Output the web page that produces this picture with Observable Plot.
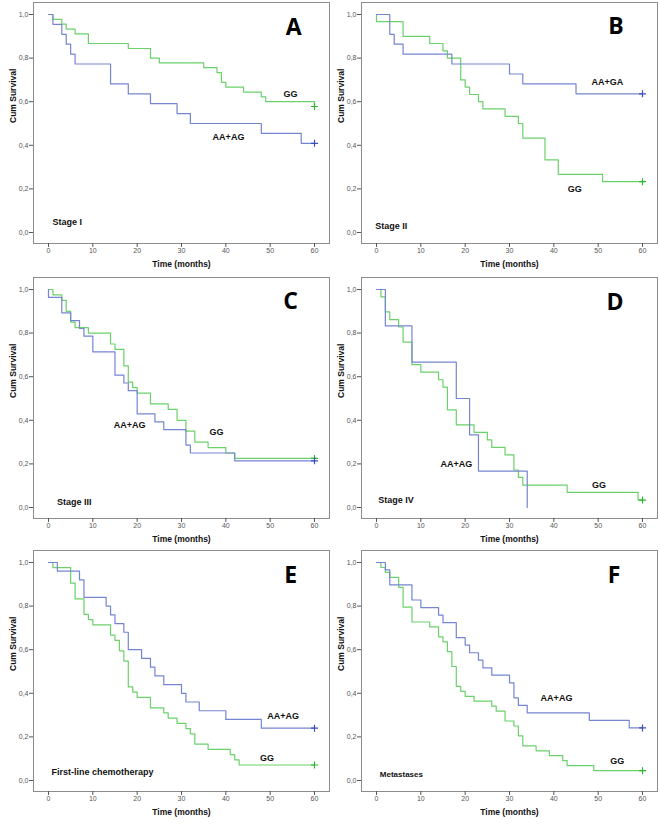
<!DOCTYPE html>
<html><head><meta charset="utf-8">
<script src="https://cdn.jsdelivr.net/npm/d3@7"></script>
<script src="https://cdn.jsdelivr.net/npm/@observablehq/plot@0.6"></script>
<style>
body{margin:0;background:#fff;}
#fig{position:relative;width:660px;height:828px;font-family:"Liberation Sans",Arial,sans-serif;}
.panel{position:absolute;}
</style></head><body><div id="fig"></div>
<script>
const xTicks = [0, 10, 20, 30, 40, 50, 60];
const yTicks = [0, 0.2, 0.4, 0.6, 0.8, 1.0];
const xTitle = "Time (months)";
const yTitle = "Cum Survival";

// Panel A – Stage I
const aBlueT = [0, 1, 3, 4, 5, 6, 14, 18, 23, 29, 32, 48, 57, 60];
const aBlueS = [1, 0.955, 0.909, 0.864, 0.818, 0.773, 0.682, 0.636, 0.591, 0.545, 0.5, 0.455, 0.409, 0.409];
const aGreenT = [0, 1, 3, 4, 6, 9, 18, 23, 25, 35, 38, 39, 40, 44, 48, 49, 60];
const aGreenS = [1, 0.978, 0.956, 0.933, 0.911, 0.867, 0.844, 0.8, 0.778, 0.756, 0.733, 0.689, 0.667, 0.644, 0.622, 0.6, 0.578];

// Panel B – Stage II
const bBlueT = [0, 3, 4, 6, 17, 30, 33, 45, 60];
const bBlueS = [1, 0.909, 0.864, 0.818, 0.773, 0.727, 0.682, 0.636, 0.636];
const bGreenT = [0, 0, 6, 12, 15, 16, 19, 20, 21, 23, 24, 29, 32, 33, 38, 41, 51, 60];
const bGreenS = [1, 0.967, 0.9, 0.867, 0.833, 0.8, 0.7, 0.667, 0.633, 0.6, 0.567, 0.533, 0.5, 0.433, 0.333, 0.267, 0.233, 0.233];

// Panel C – Stage III
const cBlueT = [0, 0, 3, 5, 7, 8, 10, 15, 17, 18, 20, 24, 26, 31, 32, 42, 60];
const cBlueS = [1, 0.964, 0.893, 0.857, 0.821, 0.786, 0.714, 0.607, 0.571, 0.536, 0.429, 0.393, 0.357, 0.286, 0.25, 0.214, 0.214];
const cGreenT = [0, 1, 3, 4, 5, 6, 9, 14, 15, 17, 18, 19, 20, 23, 27, 29, 31, 33, 36, 40, 42, 60];
const cGreenS = [1, 0.975, 0.95, 0.9, 0.85, 0.825, 0.8, 0.75, 0.725, 0.65, 0.575, 0.55, 0.525, 0.475, 0.45, 0.4, 0.35, 0.3, 0.275, 0.25, 0.225, 0.225];

// Panel D – Stage IV
const dBlueT = [0, 2, 8, 18, 21, 23, 34];
const dBlueS = [1, 0.833, 0.667, 0.5, 0.333, 0.167, 0];
const dGreenT = [0, 1, 2, 3, 5, 6, 8, 10, 14, 15, 16, 18, 22, 25, 26, 29, 31, 32, 33, 43, 59, 60];
const dGreenS = [1, 0.966, 0.897, 0.862, 0.828, 0.759, 0.655, 0.621, 0.586, 0.552, 0.448, 0.379, 0.345, 0.31, 0.276, 0.241, 0.172, 0.138, 0.103, 0.069, 0.034, 0.034];

// Panel E – First-line chemotherapy
const eBlueT = [0, 2, 7, 8, 13, 14, 15, 17, 18, 21, 23, 24, 26, 30, 31, 34, 40, 48, 60];
const eBlueS = [1, 0.96, 0.92, 0.84, 0.8, 0.76, 0.72, 0.68, 0.6, 0.56, 0.52, 0.48, 0.44, 0.4, 0.36, 0.32, 0.28, 0.24, 0.24];
const eGreenT = [0, 1, 5, 6, 8, 9, 10, 14, 15, 16, 17, 18, 19, 20, 23, 26, 27, 29, 31, 32, 33, 36, 41, 42, 43, 60];
const eGreenS = [1, 0.976, 0.905, 0.833, 0.762, 0.738, 0.714, 0.667, 0.643, 0.595, 0.548, 0.429, 0.405, 0.381, 0.333, 0.31, 0.286, 0.262, 0.238, 0.214, 0.167, 0.143, 0.119, 0.095, 0.071, 0.071];

// Panel F – Metastases
const fBlueT = [0, 2, 3, 8, 10, 14, 15, 18, 20, 21, 23, 24, 26, 30, 31, 32, 34, 48, 57, 60];
const fBlueS = [1, 0.966, 0.897, 0.828, 0.793, 0.759, 0.724, 0.655, 0.621, 0.586, 0.552, 0.517, 0.483, 0.448, 0.379, 0.345, 0.31, 0.276, 0.241, 0.241];
const fGreenT = [0, 1, 2, 3, 5, 6, 8, 12, 14, 15, 16, 17, 18, 19, 20, 22, 26, 27, 29, 31, 32, 33, 36, 39, 42, 43, 49, 60];
const fGreenS = [1, 0.977, 0.955, 0.932, 0.886, 0.795, 0.727, 0.705, 0.659, 0.636, 0.591, 0.523, 0.432, 0.409, 0.386, 0.364, 0.341, 0.318, 0.273, 0.25, 0.205, 0.159, 0.136, 0.114, 0.091, 0.068, 0.045, 0.045];

// Panel letters, subgroup labels, group labels (label positions in data units)
const letters = ["A", "B", "C", "D", "E", "F"];
const subgroups = ["Stage I", "Stage II", "Stage III", "Stage IV", "First-line chemotherapy", "Metastases"];
const blueNames = ["AA+AG", "AA+GA", "AA+AG", "AA+AG", "AA+AG", "AA+AG"];
const greenName = "GG";

const BLUE = "#7585d2", GREEN = "#6bd16b", BLUE_M = "#3b50bd", GREEN_M = "#2fb52f";

const panels = [
  {blue:[aBlueT,aBlueS], green:[aGreenT,aGreenS], censorBlue:true, bl:[40.6,0.436], gl:[54.6,0.633], sub:[0.9,0.046], let:[55.3,0.94]},
  {blue:[bBlueT,bBlueS], green:[bGreenT,bGreenS], censorBlue:true, bl:[52.1,0.688], gl:[44.7,0.2], sub:[-0.3,0.03], let:[54,0.945]},
  {blue:[cBlueT,cBlueS], green:[cGreenT,cGreenS], censorBlue:true, bl:[18.3,0.376], gl:[37.9,0.348], sub:[1.9,0.023], let:[54.6,0.943]},
  {blue:[dBlueT,dBlueS], green:[dGreenT,dGreenS], censorBlue:false, bl:[18,0.199], gl:[50.2,0.104], sub:[0.4,0.034], let:[53.8,0.94]},
  {blue:[eBlueT,eBlueS], green:[eGreenT,eGreenS], censorBlue:true, bl:[52.9,0.295], gl:[49.3,0.104], sub:[0.7,0.038], let:[54.6,0.94]},
  {blue:[fBlueT,fBlueS], green:[fGreenT,fGreenS], censorBlue:true, bl:[40.6,0.376], gl:[54.3,0.091], sub:[0.75,0.029], let:[53.6,0.94]}
];

const colX = [0, 328], rowY = [0, 275, 548];
const fig = document.getElementById("fig");
const rows = (ts) => ts[0].map((t, i) => ({t, s: ts[1][i]}));

panels.forEach((p, k) => {
  const b = rows(p.blue), g = rows(p.green);
  const bLast = b[b.length - 1], gLast = g[g.length - 1];
  const isMeta = k === 5;
  const chart = Plot.plot({
    width: 330, height: 275,
    marginTop: 2, marginBottom: 32, marginLeft: 33, marginRight: 1,
    style: {fontFamily: "'Liberation Sans', Arial, sans-serif", background: "transparent", overflow: "visible"},
    x: {domain: [-3.38, 63.38]},
    y: {domain: [-0.0505, 1.055]},
    marks: [
      Plot.frame({stroke: "#8c8c8c"}),
      Plot.axisX({ticks: xTicks, tickSize: 4, tickPadding: 1, fontSize: 7, label: null, color: "#555"}),
      Plot.axisY({ticks: yTicks, tickSize: 4, tickPadding: 1, fontSize: 7, label: null, color: "#555",
        tickFormat: d => d.toFixed(1).replace(".", ",")}),
      Plot.line(g, {x: "t", y: "s", curve: "step-after", stroke: GREEN, strokeWidth: 1.2}),
      Plot.line(b, {x: "t", y: "s", curve: "step-after", stroke: BLUE, strokeWidth: 1.2}),
      Plot.dot([gLast], {x: "t", y: "s", symbol: "plus", r: 2.4, stroke: GREEN_M, strokeWidth: 1.2}),
      p.censorBlue ? Plot.dot([bLast], {x: "t", y: "s", symbol: "plus", r: 2.4, stroke: BLUE_M, strokeWidth: 1.2}) : null,
      Plot.text([blueNames[k]], {x: p.bl[0], y: p.bl[1], fontWeight: "bold", fontSize: 9, fill: "#111"}),
      Plot.text([greenName], {x: p.gl[0], y: p.gl[1], fontWeight: "bold", fontSize: 9, fill: "#111"}),
      Plot.text([subgroups[k]], {x: p.sub[0], y: p.sub[1], textAnchor: "start", fontWeight: "bold", fontSize: isMeta ? 8 : 9, fill: "#111"}),
      Plot.text([letters[k]], {x: p.let[0], y: p.let[1], fontWeight: "bold", fontSize: 23, fill: "#000", fontFamily: "'Open Sans', 'Liberation Sans', sans-serif"}),
      Plot.text([yTitle], {frameAnchor: "left", rotate: -90, dx: -20, fontWeight: "bold", fontSize: 8.5, fill: "#111"}),
      Plot.text([xTitle], {frameAnchor: "bottom", dy: 23, fontWeight: "bold", fontSize: 8.5, fill: "#111"})
    ]
  });
  const div = document.createElement("div");
  div.className = "panel";
  div.style.left = colX[k % 2] + "px";
  div.style.top = rowY[Math.floor(k / 2)] + "px";
  div.appendChild(chart);
  fig.appendChild(div);
});
</script></body></html>
